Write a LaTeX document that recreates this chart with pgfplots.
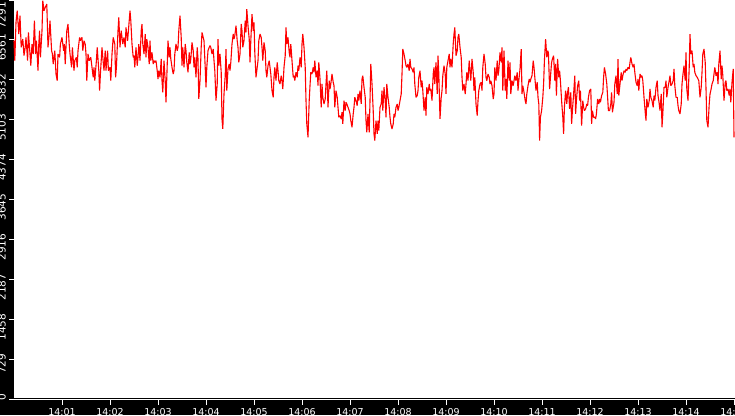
\documentclass[border=0pt]{standalone}
\usepackage{fontspec}
\setmainfont{DejaVu Sans}
\usepackage{pgfplots}
\usepackage{pgfplotstable}
\pgfplotsset{compat=1.18}

% t = seconds after 14:00:00, v = value
\pgfplotstableread{
t v
0 6548
1 6184
2.5 6882
4 7095
6 6670
7.5 7004
9 6427
11 6578
12.5 6275
14 6427
15 6609
17 6184
18 6700
20 6305
21 6092
22.5 6487
24 6305
25.5 6913
27 6305
28 6548
30 6001
31 6487
32 6730
33 6244
35 6730
36 7277
37.5 7095
39 7155
41 7216
42.5 6427
44 6670
45 6913
47 6366
48 6305
49 6123
51 6366
52.5 5941
54 5819
55 6305
57 6244
58 6487
60 6609
62 6366
63 6487
64 6123
66 6730
67.5 6852
69 6487
70 6305
72 6062
73 6427
75 6001
76 6184
78 6244
79 6062
80 6366
82 6609
83 6548
85 6609
86 6366
87.5 6548
89 6487
90 6305
91 5819
92.5 6305
94 6184
96 6244
97.5 6062
99 5880
100 6062
101 5819
103 6184
104 6427
106 6001
107 5637
108 5941
110 6427
111 6244
112.5 6001
114 6366
115 6001
117 6366
118 6001
120 6062
121 5819
122.5 6305
124 6609
126 6487
127 5880
128 6062
130 6730
131 6973
132.5 6427
134 6730
136 6487
137.5 6609
139 6427
140 6791
142 6548
143 6730
145 7095
146 6913
147.5 6487
149 6244
150 6275
151 6062
152.5 6427
154 6092
155 6244
156 6487
157.5 6184
159 6730
160 6852
161 6487
162.5 6305
164 6670
165 6244
166 6578
167.5 6427
169 6123
170 6548
171 6184
172.5 6335
174 6123
175 6184
176 6153
177.5 6184
179 6001
180 5849
181 6001
182.5 5880
184 6214
185 5819
186 5606
187.5 6184
189 5819
190 5424
191 5880
192.5 6548
194 6244
195 6427
196 6214
197.5 6062
199 5941
200 6001
201 6305
202.5 6487
204 6366
205 6427
206 6730
207.5 7004
209 6609
210 6092
211 6427
212.5 6062
214 6487
215 6366
216 6153
217.5 5971
219 6335
220 6123
221 6214
222.5 6518
224 6366
225 6062
226 6244
227.5 5880
229 6427
230 6214
231 5485
232.5 5819
234 6427
235 6700
236 6639
237.5 6548
239 6062
240 5698
241 6062
242.5 6366
244 6427
245 6457
246 6427
247.5 6305
249 6396
250 6184
251 6001
252.5 5454
254 5758
255 6578
256 6092
257.5 6305
259 5971
260 5120
261 4938
262.5 5576
264 5910
265 6396
266 5637
267.5 6032
269 6123
270 6001
271 6153
272.5 6487
274 6670
275 6578
276 6639
277.5 6821
279 6548
280 6427
281 6153
282.5 6305
284 6852
285 6730
286 6427
287.5 6548
289 6913
290 6700
291 7125
292.5 6821
294 6578
295 6153
296 6548
297.5 7034
299 6730
300 6882
301 6335
302.5 5880
304 6062
305 6184
306 6548
307.5 6670
309 6609
310 6427
311 6184
312.5 6518
314 6366
315 6001
316 5880
317.5 6092
319 6184
320 6062
321 5941
322.5 5637
324 5515
325 5880
326 6062
327.5 5819
329 6153
330 6001
331 5819
332.5 5758
334 5910
335 5819
336 5667
337.5 6062
339 6275
340 6791
341 6487
342.5 6609
344 6335
345 6244
346 6487
347.5 6184
349 5880
350 5910
351 5819
352.5 5971
354 5880
355 6092
356 6001
357.5 6244
359 6062
360 6487
361 6670
362.5 6427
364 6062
365 5454
366 5029
367.5 4786
369 5454
370 5728
371 5971
372.5 5941
374 6062
375 5971
376 6184
377.5 5880
379 6001
380 5728
381 6153
382.5 5849
384 5333
385 5758
386 5515
387.5 5394
389 5485
390 5758
391 6001
392.5 5333
394 5819
395 5667
396 5758
397.5 5941
399 5789
400 5728
401 5333
402.5 5637
404 5515
405 5333
406 5151
407.5 5181
409 5120
410 5242
411 5029
412.5 5454
414 5272
415 5424
416 5394
417.5 5333
419 5272
420 5212
421 5090
422.5 4969
424 5212
425 5333
426 5515
427.5 5454
429 5363
430 5576
431 5454
432.5 5637
434 5394
435 5849
436 5910
437.5 5698
439 5515
440 5090
441 4877
442.5 5212
444 4877
445 5454
446 6123
447.5 5758
449 5272
450 4847
451 4726
452.5 5090
454 4847
455 5090
456 4908
457.5 5333
459 5394
460 5637
461 5272
462.5 5698
464 5454
465 5151
466 5758
467.5 5515
469 5333
470 5151
471 5029
472.5 4938
474 5029
475 5212
476 5151
477.5 5333
479 5394
480 5272
481 5333
482.5 5454
484 5576
485 5941
486 6396
487.5 6305
489 6184
490 6092
491 6062
492.5 6123
494 6001
495 6214
496 6062
497.5 6032
499 5971
500 6062
501 5758
502.5 5515
504 5546
505 5637
506 5880
507.5 6001
509 5698
510 5819
511 5637
512.5 5272
514 5515
515 5181
516 5698
517.5 5576
519 5758
520 5637
521 5667
522.5 5454
524 5941
525 6062
526 5758
527.5 6153
529 5576
530 6275
531 5941
532.5 5120
534 5515
535 5637
536 5910
537.5 6092
539 5941
540 5576
541 6062
542.5 6184
544 6305
545 6062
546 6214
547.5 6062
549 6487
550 6670
551 6791
552.5 6275
554 6366
555 6609
556 6670
557.5 6427
559 6244
560 5880
561 5637
562.5 5758
564 5576
565 5758
566 5971
567.5 5819
569 6184
570 6001
571 5819
572.5 6214
574 5971
575 5637
576 5880
577.5 5394
579 5181
580 5454
581 5637
582.5 5758
584 5789
585 5637
586 6062
587.5 6305
589 6123
590 5880
591 5819
592.5 5941
594 5880
595 5758
596 5819
597.5 5728
599 5485
600 5576
601 6062
602.5 5819
604 6184
605 5910
606 6001
607.5 6335
609 6153
610 6427
611 5637
612.5 6366
614 5637
615 5849
616 5485
617.5 6184
619 5819
620 6153
621 5576
622.5 5819
624 5728
625 5819
626 5910
627.5 5819
629 5971
630 5637
631 5819
632.5 6032
634 6396
635 5576
636 5728
637.5 5606
639 5454
640 5394
641 5576
642.5 5728
644 5849
645 5789
646 5849
647.5 5910
649 6184
650 6062
651 5880
652.5 5637
654 5789
655 5515
656 5394
657 4726
658 5151
659.5 5272
661 5515
662 5758
663 6184
664.5 6578
666 6244
667 6366
668 6335
669.5 5667
671 5971
672 6153
673 6214
674.5 6275
676 5819
677 6123
678 5546
679.5 6214
681 5880
682 6001
683 5819
684.5 5454
686 5151
687 4847
688 5333
689.5 5637
691 5394
692 5606
693 5698
694.5 5303
696 5606
697 5029
698 5272
699.5 5576
701 5910
702 5212
703 5454
704.5 5728
706 5819
707 5454
708 5637
709.5 4999
711 5454
712 5333
713 5272
714.5 5303
716 5394
717 5363
718 5515
719.5 5637
721 5667
722 5029
723 5272
724.5 5151
726 5151
727 5120
728 5212
729.5 5485
731 5394
732 5485
733 5424
734.5 5546
736 5606
737 5880
738 6062
739.5 5941
741 5758
742 5515
743 5272
744.5 5272
746 5394
747 5606
748 5242
750 5424
751 5758
752.5 5910
754 5576
755 6214
756 5546
757.5 5758
759 5971
760 5819
761 5910
762.5 6001
764 5971
765 6032
766 6001
767.5 6062
769 6032
770 6153
771 6244
772.5 6123
774 6062
775 6123
776 5971
777.5 5789
779 5728
780 5849
781 5637
782.5 5941
784 5880
785 5910
786 5819
787.5 5515
789 5242
790 5090
791 5485
792.5 5333
794 5454
795 5667
796 5515
797.5 5454
799 5333
800 5546
801 5454
802.5 5698
804 5819
805 5546
806 5454
807.5 5272
809 5576
810 4969
811 5212
812.5 5698
814 5698
815 5819
816 5515
817.5 5698
819 5819
820 5910
821 5728
822.5 5758
824 5819
825 6032
826 5728
827.5 5515
829 5515
830 5363
831 5272
832.5 5212
834 5394
835 5758
836 5910
837.5 6092
839 5819
840 6335
841 5667
842.5 5454
844 6062
845 6670
846 6305
847.5 6366
849 6062
850 6123
851 5971
852.5 5910
854 5880
855 5849
856 5819
857.5 5515
859 5698
860 5971
861 6305
862.5 6396
864 6153
865 5667
866 5090
867.5 4969
869 5394
870 5576
871 5637
872.5 5758
874 5819
875 5941
876 6062
877.5 5910
879 5971
880 5758
881 6123
882.5 6366
884 5849
885 6092
886 5910
887.5 5454
889 5789
890 5819
891 5637
892.5 5667
894 5546
895 5667
896 5424
897.5 5789
899 6032
900 4786
}\series

\begin{document}
\begin{tikzpicture}
\useasboundingbox (0,0) rectangle (735pt,415pt);
\clip (0,0) rectangle (735pt,415pt);
\fill[black] (0,0) rectangle (735pt,415pt);
\begin{axis}[
    at={(14pt,15.5pt)}, anchor=south west,
    scale only axis, width=721pt, height=399.5pt,
    xmin=0, xmax=901.25, ymin=0, ymax=7291,
    axis background/.style={fill=white},
    axis lines*=left,
    axis line style={white, line width=1pt},
    tick align=outside, major tick length=5pt,
    tick style={white, line width=1pt},
    xtick={60,120,180,240,300,360,420,480,540,600,660,720,780,840,900},
    xticklabels={14:01,14:02,14:03,14:04,14:05,14:06,14:07,14:08,14:09,14:10,14:11,14:12,14:13,14:14,14:15},
    ytick={0,729.1,1458.2,2187.3,2916.4,3645.5,4374.6,5103.7,5832.8,6561.9},
    yticklabels={0,729,1458,2187,2916,3645,4374,5103,5832,6561},
    extra y ticks={7291},
    extra y tick labels={7291},
    extra y tick style={yticklabel style={xshift=-8pt}},
    x tick label style={font=\fontsize{9.5}{10}\selectfont, text=white,
        anchor=north, inner sep=0pt, yshift=-4pt},
    y tick label style={font=\fontsize{10.5}{10.5}\selectfont, text=white,
        inner sep=0pt, yshift=6pt, xshift=-3.3pt, rotate=90, anchor=base east},
    clip=false,
]
\addplot[red, line width=1.1pt, line join=bevel] table[x=t, y=v] {\series};
\draw[black, line width=1pt] ([yshift=1pt]rel axis cs:0,0) -- ([yshift=1pt]rel axis cs:1,0);
\end{axis}
\end{tikzpicture}
\end{document}
